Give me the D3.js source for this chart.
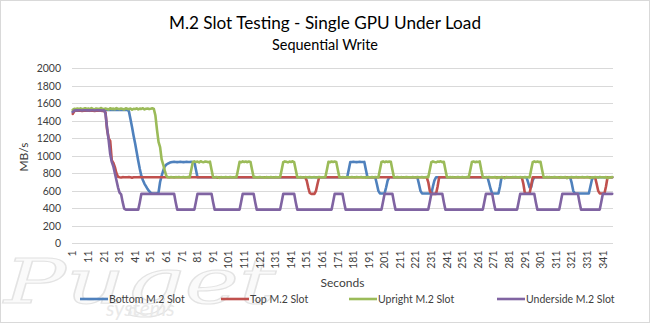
<!DOCTYPE html>
<html><head><meta charset="utf-8">
<script src="https://cdn.jsdelivr.net/npm/d3@7/dist/d3.min.js"></script>
<style>
body{margin:0;background:#fff}
svg{display:block}
text{font-family:Lato,"Open Sans",sans-serif;fill:#404040}
</style>
</head><body>
<svg id="chart" width="650" height="323"></svg>
<script>
// ---------------- DATA ----------------
const seconds = d3.range(1, 348); // x categories: second 1 .. 347
const xTickLabels = [1,11,21,31,41,51,61,71,81,91,101,111,121,131,141,151,161,171,181,191,201,211,221,231,241,251,261,271,281,291,301,311,321,331,341];
const yTickValues = [0,200,400,600,800,1000,1200,1400,1600,1800,2000];
const seriesNames = ["Bottom M.2 Slot","Top M.2 Slot","Upright M.2 Slot","Underside M.2 Slot"];

const bottomSlot = [
1505,1522,1525,1524,1526,1525,1523,1525,1526,1524,
1525,1524,1526,1525,1523,1525,1526,1524,1525,1523,
1525,1526,1524,1525,1523,1525,1526,1524,1525,1526,
1525,1524,1526,1525,1523,1525,1510,1420,1330,1230,
1140,1040,940,850,770,720,680,650,620,595,
575,570,570,570,570,580,700,770,830,880,
900,910,920,925,930,932,930,928,930,932,
930,928,930,932,930,929,931,930,928,840,
755,755,755,755,755,755,755,755,755,755,
755,755,755,755,755,755,755,755,755,755,
755,755,755,755,755,755,755,755,755,755,
755,755,755,755,755,755,755,755,755,755,
755,755,755,755,755,755,755,755,755,755,
755,755,755,755,755,755,755,755,755,755,
755,755,755,755,755,755,755,755,755,755,
755,755,755,755,755,755,755,755,755,755,
755,755,755,755,755,755,755,755,755,755,
755,755,755,755,755,755,755,840,930,930,
932,930,928,930,932,930,929,930,840,755,
755,755,755,755,755,680,600,570,570,570,
570,640,720,755,755,755,755,755,755,755,
755,755,755,755,755,755,755,755,755,755,
755,755,680,600,570,570,570,570,570,570,
570,650,720,755,755,755,755,755,755,755,
755,755,755,755,755,755,755,755,755,755,
755,755,755,755,755,755,755,755,755,755,
755,755,755,755,755,755,755,690,620,570,
570,570,570,570,650,755,755,755,755,755,
755,755,755,755,755,755,755,755,755,755,
755,755,700,640,640,720,755,755,755,755,
755,755,755,755,755,755,755,755,755,755,
755,755,755,755,755,755,755,755,755,755,
690,600,570,570,570,570,570,570,570,570,
570,570,650,730,755,755,755,755,755,755,
755,755,755,755,755,755,755];

const topSlot = [
1480,1512,1515,1514,1516,1515,1513,1515,1516,1514,
1515,1514,1516,1515,1513,1515,1516,1514,1515,1513,
1515,1495,1300,1200,1170,950,920,870,800,760,
755,752,756,755,754,755,756,755,750,755,
755,755,755,758,755,755,755,755,755,755,
755,755,755,755,755,755,755,755,755,755,
755,755,755,755,755,755,755,755,755,755,
755,755,755,755,755,755,755,755,755,755,
755,755,755,755,755,755,755,755,755,755,
755,755,755,750,755,755,755,755,755,755,
755,755,755,755,755,755,755,755,755,755,
755,755,755,755,755,755,755,755,755,755,
755,755,755,755,755,755,755,755,755,755,
755,755,755,755,755,755,755,755,755,755,
755,755,755,755,755,755,755,755,755,755,
720,640,575,565,565,565,600,680,755,755,
755,755,755,755,755,755,755,755,755,755,
755,755,755,755,755,755,755,755,755,755,
755,755,755,755,755,755,755,755,755,755,
755,755,755,755,755,755,755,755,755,755,
755,755,755,755,755,755,755,755,755,755,
755,755,755,755,755,755,755,755,755,755,
755,755,755,755,755,755,755,755,700,600,
565,565,565,565,650,755,755,755,755,755,
755,755,755,755,755,755,755,755,755,755,
755,755,755,755,755,755,755,755,755,755,
755,755,755,755,755,755,755,755,755,755,
755,755,755,755,755,755,755,755,755,755,
755,755,755,755,755,755,755,755,755,680,
570,570,570,570,660,755,755,755,755,755,
755,755,755,755,755,755,755,755,755,755,
755,755,755,755,755,755,755,755,755,755,
755,755,755,755,755,755,755,755,755,755,
755,755,755,755,755,755,680,600,570,570,
570,570,650,755,755,755,755];

const uprightSlot = [
1525,1538,1532,1540,1535,1542,1533,1537,1544,1536,
1540,1532,1545,1536,1530,1541,1538,1534,1546,1537,
1533,1540,1536,1528,1543,1535,1539,1532,1545,1538,
1534,1541,1536,1530,1544,1537,1533,1540,1526,1538,
1535,1542,1531,1539,1536,1544,1530,1538,1541,1534,
1537,1543,1535,1460,1300,1160,1100,960,900,830,
770,755,753,757,755,752,756,755,758,754,
755,757,753,755,756,754,840,930,936,928,
934,925,938,930,927,935,931,926,933,840,
755,752,757,755,748,756,755,753,758,755,
754,757,755,752,756,755,840,932,926,936,
929,934,927,935,930,840,755,756,753,755,
757,754,755,750,756,755,753,757,755,752,
756,755,754,757,840,928,936,931,925,934,
930,937,927,840,755,753,757,755,752,756,
755,754,757,753,755,756,752,755,758,754,
755,753,757,840,932,926,935,929,934,930,
840,755,752,756,755,754,757,753,755,756,
755,752,757,754,755,756,753,755,750,757,
754,755,756,753,757,755,752,840,930,936,
927,934,929,935,931,840,755,753,757,754,
755,756,752,755,757,754,755,753,756,755,
752,757,755,754,756,753,755,757,754,840,
928,936,930,925,934,931,937,927,932,840,
755,753,757,754,756,752,755,758,754,755,
756,753,755,757,754,840,929,935,927,933,
930,936,840,755,752,756,754,757,755,753,
755,757,746,755,753,756,755,744,757,754,
755,752,756,754,757,755,753,756,755,752,
757,754,755,753,840,927,936,930,934,928,
932,840,755,753,757,754,756,752,755,757,
754,755,748,756,753,755,757,745,755,754,
756,753,755,757,752,755,754,756,753,755,
757,754,746,755,753,756,755,752,757,754,
755,753,756,745,755,752,757];

const undersideSlot = [
1500,1518,1520,1519,1521,1520,1518,1520,1521,1519,
1520,1519,1521,1520,1518,1520,1521,1519,1520,1518,
1520,1480,1320,1180,1020,930,880,800,720,640,
580,560,470,395,385,385,385,385,385,385,
385,385,385,470,565,565,565,565,565,565,
565,565,565,565,565,565,565,565,565,565,
565,565,565,565,565,565,470,385,385,385,
385,385,385,385,385,385,385,385,385,475,
565,565,565,565,565,565,565,565,565,565,
470,385,385,385,385,385,385,385,385,385,
385,385,385,385,385,385,385,385,475,565,
565,565,565,565,565,565,565,470,385,385,
385,385,385,385,385,385,385,385,385,385,
385,385,385,385,475,565,565,565,565,565,
565,565,565,470,385,385,385,385,385,385,
385,385,385,385,385,385,385,385,385,385,
385,385,385,385,385,385,385,475,565,565,
565,565,565,565,470,385,385,385,385,385,
385,385,385,385,385,385,385,385,385,385,
385,385,385,385,385,385,385,385,385,475,
565,565,565,565,565,565,470,385,385,385,
385,385,385,385,385,385,385,385,385,385,
385,385,385,385,385,385,385,385,385,475,
565,565,565,565,565,565,565,565,470,385,
385,385,385,385,385,385,385,385,385,385,
385,385,385,385,385,385,385,385,385,385,
385,385,385,385,475,565,565,565,565,565,
470,385,385,385,385,385,385,385,385,385,
385,385,385,385,385,385,475,565,565,565,
565,565,565,565,565,565,565,470,385,385,
385,385,385,385,385,385,385,385,385,385,
385,385,385,475,565,565,565,565,565,565,
565,565,565,565,565,470,385,385,385,385,
385,385,385,385,385,385,385,385,385,475,
565,565,565,565,565,565,565];

const seriesColors = ["#4F81BD","#C0504D","#9BBB59","#8064A2"];

// ---------------- CHART ----------------
const W = 650, H = 323;
const M = {left:72, right:613, top:68.3, bottom:243.3};
const svg = d3.select("#chart");

// background + outer border
svg.append("rect").attr("x",0.5).attr("y",0.5).attr("width",W-1).attr("height",H-1)
  .attr("fill","#fff").attr("stroke","#d9d9d9");

// watermark (logo)
const wm = svg.append("g").attr("pointer-events","none");
wm.append("text").attr("x",4).attr("y",303)
  .attr("textLength",272).attr("lengthAdjust","spacingAndGlyphs")
  .style("font-family","'DejaVu Serif','Liberation Serif',serif").style("font-style","italic")
  .style("font-size","62px").style("fill","#fafafa").style("stroke","#e3e3e3").style("stroke-width",1.1)
  .text("Puget");
wm.append("text").attr("x",106).attr("y",316)
  .style("font-family","Lato,sans-serif").style("font-style","italic")
  .style("font-size","21px").style("fill","#e9e9e9")
  .text("systems");

const x = d3.scaleBand().domain(seconds).range([M.left, M.right]).padding(0);
const y = d3.scaleLinear().domain([0,2000]).range([M.bottom, M.top]);
const cx = d => x(d) + x.bandwidth()/2;

// gridlines
svg.append("g").selectAll("line").data(yTickValues.filter(v=>v>0)).join("line")
  .attr("x1",M.left).attr("x2",M.right)
  .attr("y1",d=>Math.round(y(d))+0.5).attr("y2",d=>Math.round(y(d))+0.5)
  .attr("stroke","#d9d9d9").attr("stroke-width",1);

// y axis
const yAxis = svg.append("g").attr("transform",`translate(${M.left},0)`)
  .call(d3.axisLeft(y).tickValues(yTickValues).tickFormat(d3.format("d")).tickSize(0).tickPadding(11));
yAxis.select(".domain").remove();
yAxis.selectAll("text").style("font-family","Lato,sans-serif").style("font-size","10.5px").attr("fill","#404040");

// x axis
const xAxis = svg.append("g").attr("transform",`translate(0,${Math.round(M.bottom)+0.5})`)
  .call(d3.axisBottom(x).tickValues(xTickLabels).tickSize(0));
xAxis.select(".domain").attr("stroke","#d9d9d9").attr("d",`M${M.left},0H${M.right}`);
xAxis.selectAll("text")
  .attr("transform","rotate(-90)").attr("x",-7).attr("y",0).attr("dy","0.35em")
  .style("text-anchor","end").style("font-family","Lato,sans-serif").style("font-size","10.5px").attr("fill","#404040");

// lines
const allSeries = [bottomSlot, topSlot, uprightSlot, undersideSlot];
const line = d3.line().x((d,i)=>cx(seconds[i])).y(d=>y(d));
allSeries.forEach((s,k)=>{
  svg.append("path").datum(s).attr("d",line)
    .attr("fill","none").attr("stroke",seriesColors[k]).attr("stroke-width",2.6)
    .attr("stroke-linejoin","round").attr("stroke-linecap","round");
});

// titles
function fitText(sel, targetWidth){
  const n = sel.node(); const w = n.getComputedTextLength();
  const fs = parseFloat(sel.style("font-size"));
  sel.style("font-size", (fs*targetWidth/w).toFixed(2)+"px");
}
const t1 = svg.append("text").attr("x",325).attr("y",29).attr("text-anchor","middle")
  .style("font-size","18px").style("fill","#000").text("M.2 Slot Testing - Single GPU Under Load");
fitText(t1, 312);
const t2 = svg.append("text").attr("x",325).attr("y",50).attr("text-anchor","middle")
  .style("font-size","14px").style("fill","#000").text("Sequential Write");
fitText(t2, 106);

// axis titles
svg.append("text").attr("transform","translate(28,157) rotate(-90)").attr("text-anchor","middle")
  .style("font-size","12px").style("fill","#404040").text("MB/s");
svg.append("text").attr("x",(M.left+M.right)/2).attr("y",287).attr("text-anchor","middle")
  .style("font-size","12px").style("fill","#404040").text("Seconds");

// legend
const legendX = [80, 221, 349, 497];
const lg = svg.append("g");
seriesNames.forEach((name,k)=>{
  const g = lg.append("g").attr("transform",`translate(${legendX[k]},299)`);
  g.append("line").attr("x1",0).attr("x2",28).attr("y1",0).attr("y2",0)
    .attr("stroke",seriesColors[k]).attr("stroke-width",2.6);
  g.append("text").attr("x",29).attr("y",0).attr("dy","0.35em")
    .style("font-size","10.5px").style("fill","#404040").text(name);
});
</script>
</body></html>
